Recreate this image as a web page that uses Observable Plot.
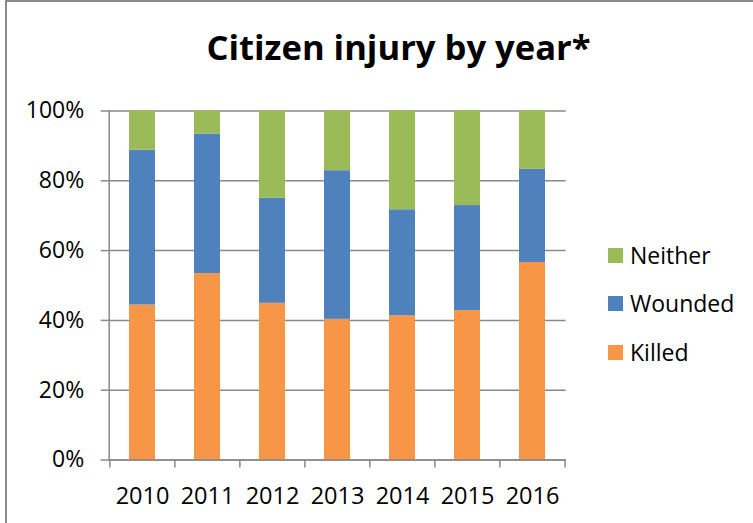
<!DOCTYPE html>
<html><head><meta charset="utf-8">
<script src="https://cdn.jsdelivr.net/npm/d3@7"></script>
<script src="https://cdn.jsdelivr.net/npm/@observablehq/plot@0.6"></script>
<style>
body{margin:0;background:#fff;}
#wrap{position:relative;width:753px;height:523px;overflow:hidden;font-family:"Open Sans",sans-serif;color:#000;}
#border{position:absolute;left:5px;top:0;width:800px;height:600px;border-left:2px solid #8a8a8a;border-top:2px solid #8a8a8a;}
#chart{position:absolute;left:0;top:0;}
#title{position:absolute;left:0;width:797px;top:30px;text-align:center;font-weight:bold;font-size:34.6px;line-height:1;white-space:nowrap;}
.leg{position:absolute;left:608px;font-size:23px;line-height:1;display:flex;align-items:center;white-space:nowrap;}
.leg span.sw{display:inline-block;width:15px;height:15px;margin-right:7px;}
</style></head>
<body>
<div id="wrap">
  <div id="border"></div>
  <div id="chart"></div>
  <div id="title">Citizen injury by year*</div>
  <div id="legend"></div>
</div>
<script>
const years = ["2010","2011","2012","2013","2014","2015","2016"];
const killed  = [44.4, 53.4, 44.9, 40.3, 41.3, 42.8, 56.6];
const wounded = [44.4, 40.0, 30.1, 42.6, 30.4, 30.1, 26.7];
const neither = [11.2,  6.6, 25.0, 17.1, 28.3, 27.1, 16.7];
const categories = ["Killed","Wounded","Neither"];
const colors = ["#F79646","#4F81BD","#9BBB59"];
const yTicks = [0,20,40,60,80,100];
const legendOrder = ["Neither","Wounded","Killed"];

const series = {Killed: killed, Wounded: wounded, Neither: neither};
const data = years.flatMap((y,i) => categories.map(c => ({year: y, cat: c, v: series[c][i]})));

const W = 753, H = 523;
const mL = 108.7, mR = W - 565.7, mT = 110.5, mB = H - 459.5;
const step = (W - mL - mR) / years.length;
const gray = "#898989";

const plot = Plot.plot({
  width: W, height: H,
  marginLeft: mL, marginRight: mR, marginTop: mT, marginBottom: mB,
  style: {fontFamily: "Open Sans, sans-serif", fontSize: "23px", color: "#000", background: "transparent", overflow: "visible"},
  x: {domain: years, paddingInner: 0.6, paddingOuter: 0.3, align: 0.5, label: null},
  y: {domain: [0, 100], label: null},
  color: {domain: categories, range: colors},
  marks: [
    Plot.gridY({ticks: yTicks, stroke: gray, strokeOpacity: 1, strokeWidth: 1.5}),
    Plot.barY(data, {x: "year", y: "v", fill: "cat"}),
    Plot.ruleY([0], {stroke: gray, strokeWidth: 1.5}),
    Plot.frame({anchor: "left", stroke: gray, strokeWidth: 1.5}),
    Plot.axisY({ticks: yTicks, tickFormat: d => d + "%", tickSize: 8, tickPadding: 17, stroke: gray, strokeWidth: 1.5, fill: "#000", fontSize: 23, label: null}),
    Plot.axisX({tickSize: 8, dx: -step/2, tickFormat: () => "", stroke: gray, strokeWidth: 1.5, label: null}),
    Plot.axisX({ticks: [years[years.length-1]], tickSize: 8, dx: step/2, tickFormat: () => "", stroke: gray, strokeWidth: 1.5, label: null}),
    Plot.axisX({tickSize: 0, tickPadding: 27, fill: "#000", fontSize: 23.5, label: null})
  ]
});
document.getElementById("chart").appendChild(plot);

const legTops = [255, 303, 352];
const leg = document.getElementById("legend");
legendOrder.forEach((name, i) => {
  const d = document.createElement("div");
  d.className = "leg";
  d.style.top = (legTops[i] - 12) + "px";
  d.style.height = "24px";
  const sw = document.createElement("span");
  sw.className = "sw";
  sw.style.background = colors[categories.indexOf(name)];
  d.appendChild(sw);
  d.appendChild(document.createTextNode(name));
  leg.appendChild(d);
});
</script>
</body></html>
